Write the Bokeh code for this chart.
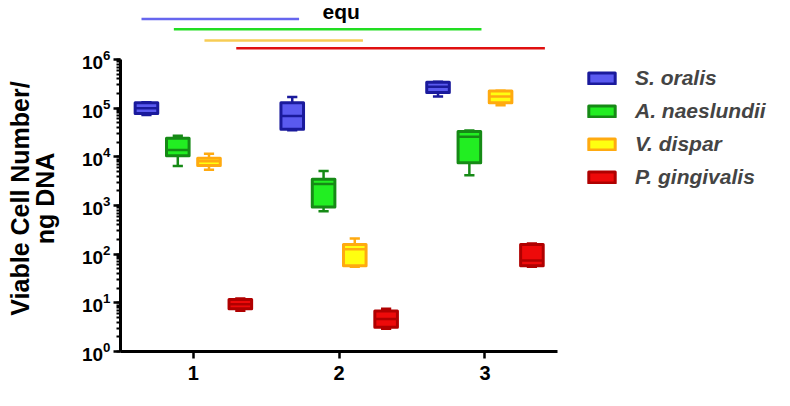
from bokeh.plotting import figure
from bokeh.layouts import column
from bokeh.models import Range1d, FixedTicker, Legend, LegendItem, Label, LogTicker
from bokeh.embed import file_html
from bokeh.resources import INLINE

# ---------------- data ----------------
groups = [1, 2, 3]
species = ["S. oralis", "A. naeslundii", "V. dispar", "P. gingivalis"]

oralis_low = [7.2e4, 3.5e4, 1.74e5]
oralis_q1 = [7.8e4, 3.7e4, 2.09e5]
oralis_med = [1.0e5, 6.9e4, 2.75e5]
oralis_q3 = [1.29e5, 1.29e5, 3.39e5]
oralis_high = [1.32e5, 1.7e5, 3.47e5]

naes_low = [6.5e3, 760, 4170]
naes_q1 = [1.05e4, 930, 7590]
naes_med = [1.38e4, 2750, 2.57e4]
naes_q3 = [2.4e4, 3470, 3.31e4]
naes_high = [2.7e4, 5130, 3.47e4]

dispar_low = [5.4e3, 55, 1.15e5]
dispar_q1 = [6.6e3, 57.5, 1.29e5]
dispar_med = [8.1e3, 126, 1.74e5]
dispar_q3 = [9.3e3, 158, 2.24e5]
dispar_high = [1.15e4, 209, 2.29e5]

ging_low = [6.9, 2.95, 55]
ging_q1 = [7.6, 3.16, 57.5]
ging_med = [9.3, 4.68, 74]
ging_q3 = [11.7, 6.76, 158]
ging_high = [12.3, 7.6, 166]

# comparison bars above the plot (start, end on x; level on y)
sig_start = [0.644, 0.866, 1.076, 1.294]
sig_end = [1.725, 2.976, 2.163, 3.411]
sig_level = [6.8e6, 4.2e6, 2.45e6, 1.7e6]

x_ticks = [1, 2, 3]
y_label = "Viable Cell Number/\nng DNA"
top_text = "equ"

# ---------------- styling ----------------
FONT = "Liberation Sans"
fills = ["#5a5af0", "#22ee22", "#ffff10", "#ee0a0a"]
lines = ["#1a1a9c", "#168a16", "#ffaa10", "#b00000"]
sig_colors = ["#6666ee", "#22dd22", "#f7cc55", "#e01010"]
offsets = [-0.322, -0.107, 0.107, 0.322]
box_w = 0.155
cap_w = 0.07
x_rng = Range1d(0.5, 4.986)
split = 10 ** 6.2873  # value at the seam between the two stacked figures


def draw_sig(fig):
    for i in range(len(sig_start)):
        fig.segment(x0=[sig_start[i]], x1=[sig_end[i]], y0=[sig_level[i]],
                    y1=[sig_level[i]], line_color=sig_colors[i], line_width=2.5)


# ---------------- top strip: comparison bars + clipped title ----------------
top = figure(width=774, height=45, output_backend="svg", toolbar_location=None,
             x_range=x_rng, y_axis_type="log",
             y_range=Range1d(split, 10 ** 7.212),
             x_axis_location=None, y_axis_location=None,
             min_border_left=120, min_border_right=0, min_border_top=0,
             min_border_bottom=0)
top.outline_line_color = None
top.xgrid.visible = False
top.ygrid.visible = False
draw_sig(top)
top.add_layout(Label(x=2.0, y=10 ** 6.98, x_offset=2, text=top_text, text_align="center",
                     text_baseline="alphabetic", text_font=FONT,
                     text_font_style="bold", text_font_size="21px", text_color="black"))

# ---------------- main plot ----------------
p = figure(width=774, height=345, output_backend="svg", toolbar_location=None,
           y_axis_type="log", x_range=x_rng, y_range=Range1d(1, split),
           min_border_left=120, min_border_right=0, min_border_top=0,
           min_border_bottom=39)
p.outline_line_color = None
p.xgrid.visible = False
p.ygrid.visible = False
p.background_fill_color = "white"
p.border_fill_color = "white"
draw_sig(p)

stats = [
    (oralis_low, oralis_q1, oralis_med, oralis_q3, oralis_high),
    (naes_low, naes_q1, naes_med, naes_q3, naes_high),
    (dispar_low, dispar_q1, dispar_med, dispar_q3, dispar_high),
    (ging_low, ging_q1, ging_med, ging_q3, ging_high),
]

legend_items = []
for i, (lo, q1, med, q3, hi) in enumerate(stats):
    xs = [g + offsets[i] for g in groups]
    p.segment(x0=xs, x1=xs, y0=lo, y1=hi, line_color=lines[i], line_width=2.5)
    p.segment(x0=[x - cap_w / 2 for x in xs], x1=[x + cap_w / 2 for x in xs],
              y0=lo, y1=lo, line_color=lines[i], line_width=2.5)
    p.segment(x0=[x - cap_w / 2 for x in xs], x1=[x + cap_w / 2 for x in xs],
              y0=hi, y1=hi, line_color=lines[i], line_width=2.5)
    r = p.quad(left=[x - box_w / 2 for x in xs], right=[x + box_w / 2 for x in xs],
               bottom=q1, top=q3, fill_color=fills[i], line_color=lines[i],
               line_width=3, line_join="round")
    p.segment(x0=[x - box_w / 2 for x in xs], x1=[x + box_w / 2 for x in xs],
              y0=med, y1=med, line_color=lines[i], line_width=2.5)
    legend_items.append(LegendItem(label=species[i], renderers=[r]))

p.xaxis.ticker = FixedTicker(ticks=x_ticks)
p.xaxis.bounds = (0.5, 3.5)
p.xaxis.major_label_text_font = FONT
p.xaxis.major_label_text_font_style = "bold"
p.xaxis.major_label_text_font_size = "20px"
p.xaxis.major_label_text_color = "black"
p.xaxis.axis_line_width = 3
p.xaxis.major_tick_line_width = 2.5
p.xaxis.major_tick_out = 7
p.xaxis.major_tick_in = 0
p.xaxis.minor_tick_line_color = None
p.xaxis.major_label_standoff = 7

p.yaxis.ticker = LogTicker(num_minor_ticks=10)
p.yaxis.bounds = (1, 1e6)
p.yaxis.major_label_text_font = FONT
p.yaxis.major_label_text_font_style = "bold"
p.yaxis.major_label_text_font_size = "19px"
p.yaxis.major_label_text_color = "black"
p.yaxis.axis_line_width = 3
p.yaxis.major_tick_line_width = 2.5
p.yaxis.major_tick_out = 7
p.yaxis.major_tick_in = 0
p.yaxis.minor_tick_line_width = 2
p.yaxis.minor_tick_out = 4
p.yaxis.minor_tick_in = 0
p.yaxis.major_label_standoff = 3
p.yaxis.axis_label = y_label
p.yaxis.axis_label_text_font = FONT
p.yaxis.axis_label_text_font_style = "bold"
p.yaxis.axis_label_text_font_size = "25px"
p.yaxis.axis_label_text_color = "black"
p.yaxis.axis_label_text_line_height = 0.9
p.yaxis.axis_label_standoff = 20

legend = Legend(items=legend_items, location=(465, 162), orientation="vertical",
                glyph_width=33, glyph_height=14, label_standoff=17,
                label_text_font=FONT, label_text_font_style="bold italic",
                label_text_font_size="21px", label_height=24, spacing=9,
                padding=0, margin=0, border_line_color=None,
                background_fill_alpha=0)
p.add_layout(legend, "center")

layout = column(top, p, spacing=0)
open("out.html", "w").write(file_html(layout, INLINE))
